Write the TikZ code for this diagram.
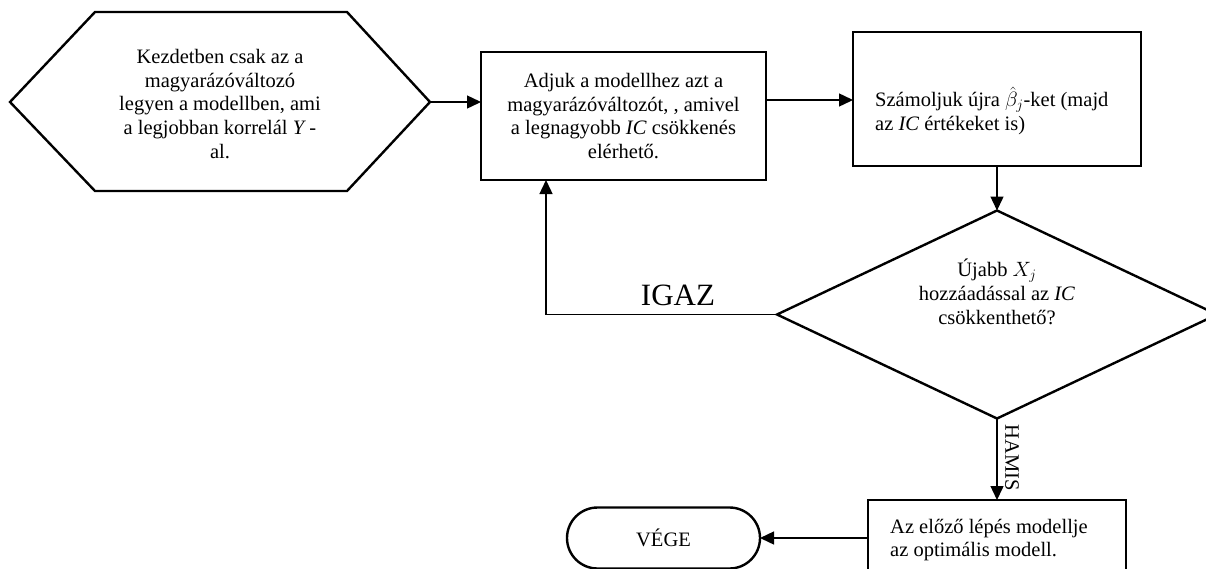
\documentclass[tikz,border=0pt]{standalone}
\usepackage{fontspec}
\setmainfont{Liberation Serif}
\usetikzlibrary{arrows.meta,shapes.geometric,shapes.misc}
\begin{document}
\begin{tikzpicture}[x=1pt,y=-1pt,
  shapeline/.style={draw=black, line width=2.4pt, line join=miter},
  body/.style={font=\fontsize{20.5}{23.8}\selectfont},
  conn/.style={draw=black, line width=1.4pt, -{Triangle[length=14pt,width=13pt]}},
  procbox/.style={shapeline, rectangle, inner sep=0pt, outer sep=0pt, body, align=center},
]
\useasboundingbox (0,0) rectangle (1206,568);

% start: hexagon
\draw[shapeline] (10,102) -- (95,12) -- (347,12) -- (430,102) -- (347,191) -- (95,191) -- cycle;
\coordinate (start-e) at (430,102);
\node[body, align=center] (starttext) at (220,104)
  {Kezdetben csak az a\\magyarázóváltozó\\legyen a modellben, ami\\a legjobban korrelál \textit{Y}\,-\\al.};

% add the best variable
\node[procbox, minimum width=285, minimum height=128] (add) at (623.5,116)
  {Adjuk a modellhez azt a\\magyarázóváltozót, , amivel\\a legnagyobb \textit{IC} csökkenés\\elérhető.};

% recompute the coefficients
\node[procbox, minimum width=288, minimum height=134] (recalc) at (997,99) {};
\node[body, align=left, anchor=west, inner sep=0] (recalctext) at (875,111)
  {Számoljuk újra $\hat{\beta}_j$-ket (majd\\az \textit{IC} értékeket is)};

% decision
\node[shapeline, diamond, minimum width=440, minimum height=208, inner sep=0, outer sep=0] (dec) at (997,314.5) {};
\node[body, align=center] (dectext) at (997,292)
  {Újabb $X_j$\\hozzáadással az \textit{IC}\\csökkenthető?};

% final model
\node[procbox, minimum width=258, minimum height=80] (final) at (997,540) {};
\node[body, align=left, anchor=west, inner sep=0] (finaltext) at (890,540)
  {Az előző lépés modellje\\az optimális modell.};

% end
\node[shapeline, rounded rectangle, minimum width=193, minimum height=61, inner sep=0, outer sep=0, body] (end) at (663.5,538) {VÉGE};

% connectors
\draw[conn] (start-e) -- (start-e -| add.west);
\draw[conn] ([yshift=16pt]add.east) -- ([yshift=16pt]add.east -| recalc.west);
\draw[conn] (recalc.south) -- (dec.north);
\draw[conn] (dec.west) -| ([xshift=-77.5pt]add.south);
\node[font=\fontsize{31}{31}\selectfont, anchor=base, inner sep=0] (igaz) at (678,305) {IGAZ};
\draw[conn] (dec.south) -- (final.north);
\node[body, rotate=-90, inner sep=0] (hamis) at (1012,458) {HAMIS};
\draw[conn] (end.east -| final.west) -- (end.east);
\end{tikzpicture}
\end{document}
